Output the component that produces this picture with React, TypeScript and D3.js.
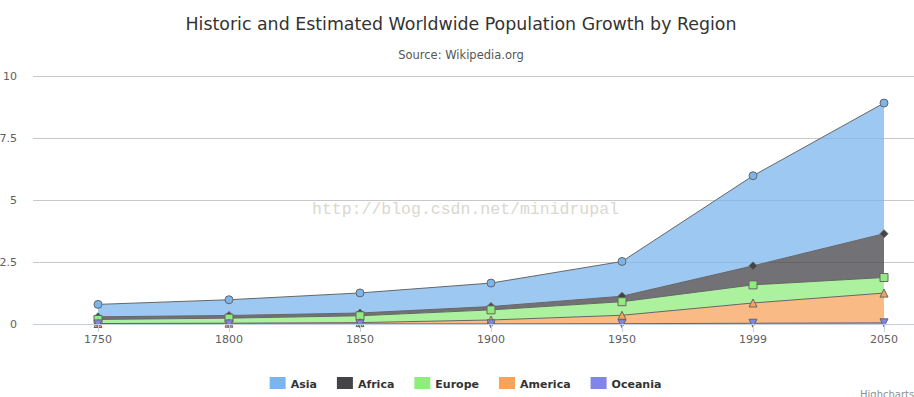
import React, { useEffect, useRef } from 'react';
import * as d3 from 'd3';

// population in millions (Highcharts stacked area demo), shown in billions
const years = ['1750', '1800', '1850', '1900', '1950', '1999', '2050'];
const asia = [502, 635, 809, 947, 1402, 3634, 5268];
const africa = [106, 107, 111, 133, 221, 767, 1766];
const europe = [163, 203, 276, 408, 547, 729, 628];
const america = [18, 31, 54, 156, 339, 818, 1201];
const oceania = [2, 2, 2, 6, 13, 30, 46];
const yTicks = [0, 2.5, 5, 7.5, 10];

const seriesNames = ['Asia', 'Africa', 'Europe', 'America', 'Oceania'];
const seriesColors = ['#7cb5ec', '#434348', '#90ed7d', '#f7a35c', '#8085e9'];
const markerShapes = ['circle', 'diamond', 'square', 'triangle', 'triangle-down'];

const W = 914;
const H = 397;

function markerPath(shape: string, x: number, y: number, r: number) {
  switch (shape) {
    case 'diamond':
      return `M${x},${y - r}L${x + r},${y}L${x},${y + r}L${x - r},${y}Z`;
    case 'square':
      return `M${x - r},${y - r}h${2 * r}v${2 * r}h${-2 * r}Z`;
    case 'triangle':
      return `M${x},${y - r}L${x + r},${y + r}L${x - r},${y + r}Z`;
    case 'triangle-down':
      return `M${x - r},${y - r}L${x + r},${y - r}L${x},${y + r}Z`;
    default:
      return `M${x - r},${y}a${r},${r} 0 1,0 ${2 * r},0a${r},${r} 0 1,0 ${-2 * r},0`;
  }
}

const App: React.FC = () => {
  const svgRef = useRef<SVGSVGElement>(null);

  useEffect(() => {
    if (!svgRef.current) return;
    document.body.style.margin = '0';
    const svg = d3.select(svgRef.current);
    svg.selectAll('*').remove();

    const font = '"DejaVu Sans", "Lucida Grande", Verdana, sans-serif';
    const plotLeft = 33;

    const x = d3.scalePoint<string>().domain(years).range([98, 884]);
    const y = d3.scaleLinear().domain([0, 10]).range([324, 76]);

    // gridlines
    svg.append('g')
      .selectAll('line')
      .data(yTicks.filter(t => t !== 0))
      .join('line')
      .attr('x1', plotLeft)
      .attr('x2', W)
      .attr('y1', d => y(d) + 0.5)
      .attr('y2', d => y(d) + 0.5)
      .attr('stroke', '#c8c8c8')
      .attr('stroke-width', 1);

    // y labels
    svg.append('g')
      .selectAll('text')
      .data(yTicks)
      .join('text')
      .attr('x', 17)
      .attr('y', d => y(d) + 4)
      .attr('text-anchor', 'end')
      .attr('font-family', font)
      .attr('font-size', 11)
      .attr('fill', '#606060')
      .text(d => String(d));

    // title + subtitle
    svg.append('text')
      .attr('x', 461)
      .attr('y', 30)
      .attr('text-anchor', 'middle')
      .attr('font-family', font)
      .attr('font-size', 17.4)
      .attr('fill', '#333333')
      .text('Historic and Estimated Worldwide Population Growth by Region');
    svg.append('text')
      .attr('x', 461)
      .attr('y', 59)
      .attr('text-anchor', 'middle')
      .attr('font-family', font)
      .attr('font-size', 11.5)
      .attr('fill', '#555555')
      .text('Source: Wikipedia.org');

    // stacked data, Asia on top
    const values = [asia, africa, europe, america, oceania];
    const rows = years.map((yr, i) => {
      const row: { [k: string]: number | string } = { year: yr };
      seriesNames.forEach((n, s) => { row[n] = values[s][i] / 1000; });
      return row;
    });
    const stack = d3.stack<any>().keys([...seriesNames].reverse());
    const layers = stack(rows);

    const area = d3.area<any>()
      .x(d => x(d.data.year) as number)
      .y0(d => y(d[0]))
      .y1(d => y(d[1]));
    const line = d3.line<any>()
      .x(d => x(d.data.year) as number)
      .y(d => y(d[1]));

    const plot = svg.append('g');
    // draw from top series (Asia) to bottom so lower lines sit above
    const ordered = [...layers].reverse();
    ordered.forEach(layer => {
      const idx = seriesNames.indexOf(layer.key);
      plot.append('path')
        .datum(layer)
        .attr('d', area)
        .attr('fill', seriesColors[idx])
        .attr('fill-opacity', 0.75);
      plot.append('path')
        .datum(layer)
        .attr('d', line)
        .attr('fill', 'none')
        .attr('stroke', '#666666')
        .attr('stroke-width', 1);
    });

    // watermark
    svg.append('text')
      .attr('x', 312)
      .attr('y', 214)
      .attr('font-family', '"Liberation Mono", "DejaVu Sans Mono", monospace')
      .attr('font-size', 16.5)
      .attr('fill', '#d8d8d0')
      .text('http://blog.csdn.net/minidrupal');

    // x axis
    const axis = svg.append('g');
    axis.append('line')
      .attr('x1', plotLeft)
      .attr('x2', W)
      .attr('y1', y(0) + 0.5)
      .attr('y2', y(0) + 0.5)
      .attr('stroke', '#C0D0E0');
    axis.selectAll('.tick')
      .data(years)
      .join('line')
      .attr('class', 'tick')
      .attr('x1', d => (x(d) as number) + 0.5)
      .attr('x2', d => (x(d) as number) + 0.5)
      .attr('y1', y(0))
      .attr('y2', y(0) + 8)
      .attr('stroke', '#C0D0E0');
    axis.selectAll('.lbl')
      .data(years)
      .join('text')
      .attr('class', 'lbl')
      .attr('x', d => x(d) as number)
      .attr('y', 343)
      .attr('text-anchor', 'middle')
      .attr('font-family', font)
      .attr('font-size', 11)
      .attr('fill', '#606060')
      .text(d => d);

    // markers
    ordered.forEach(layer => {
      const idx = seriesNames.indexOf(layer.key);
      plot.append('g')
        .selectAll('path')
        .data(layer)
        .join('path')
        .attr('d', d => markerPath(markerShapes[idx], x(d.data.year) as number, y(d[1]), 4))
        .attr('fill', seriesColors[idx])
        .attr('stroke', '#666666')
        .attr('stroke-width', 1);
    });

    // legend, centred under the chart
    const legend = svg.append('g');
    let lx = 0;
    seriesNames.forEach((n, i) => {
      legend.append('rect')
        .attr('x', lx)
        .attr('y', 377)
        .attr('width', 16)
        .attr('height', 12)
        .attr('fill', seriesColors[i]);
      const t = legend.append('text')
        .attr('x', lx + 21)
        .attr('y', 388)
        .attr('font-family', font)
        .attr('font-size', 11)
        .attr('font-weight', 'bold')
        .attr('fill', '#333333')
        .text(n);
      const tw = (t.node() as SVGTextElement).getComputedTextLength();
      lx += 21 + tw + (i < seriesNames.length - 1 ? 20 : 0);
    });
    legend.attr('transform', `translate(${465.5 - lx / 2},0)`);

    // credits (cut by the right edge, as in the source)
    svg.append('text')
      .attr('x', 860)
      .attr('y', 398)
      .attr('font-family', font)
      .attr('font-size', 10)
      .attr('fill', '#909090')
      .text('Highcharts.com');
  }, []);

  return (
    <div>
      <svg ref={svgRef} width={W} height={H} style={{ display: 'block', background: '#fff' }}></svg>
    </div>
  );
};

export default App;
